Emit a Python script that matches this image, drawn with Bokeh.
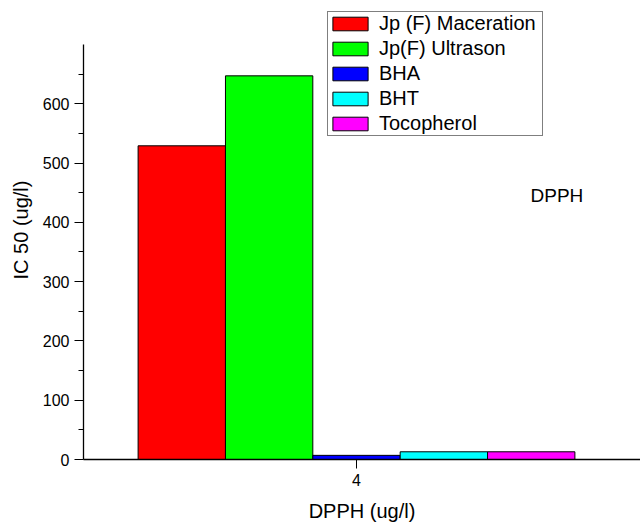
from bokeh.plotting import figure
from bokeh.models import Range1d, FixedTicker, Legend, LegendItem, Label, ColumnDataSource
from bokeh.embed import file_html
from bokeh.resources import INLINE

# Data
series = ["Jp (F) Maceration", "Jp(F) Ultrason", "BHA", "BHT", "Tocopherol"]
colors = ["#FF0000", "#00FF00", "#0000FF", "#00FFFF", "#FF00FF"]
x_value = 4
ic50 = [529, 647, 7, 13, 13]
y_ticks = [0, 100, 200, 300, 400, 500, 600]
y_minor = [50, 150, 250, 350, 450, 550, 650]
y_axis_max = 700

bar_w = 0.32
FONT = "Liberation Sans"

# frame: left 83 px, bottom at 460 px; y=700 at 44 px from top
frame_h = 460
px_per_unit = (460 - 44) / y_axis_max
p = figure(width=640, height=524, output_backend="svg", toolbar_location=None,
           x_range=Range1d(3.0, 3.0 + 557 / 273),
           y_range=Range1d(0, frame_h / px_per_unit),
           min_border_left=83, min_border_right=0, min_border_top=0, min_border_bottom=64)
p.outline_line_color = None
p.xgrid.visible = False
p.ygrid.visible = False
p.background_fill_color = "white"
p.border_fill_color = "white"

items = []
n = len(series)
for i, (name, c, v) in enumerate(zip(series, colors, ic50)):
    off = (i - (n - 1) / 2) * bar_w
    src = ColumnDataSource(dict(x=[x_value + off], top=[v]))
    r = p.vbar(x="x", top="top", bottom=0, width=bar_w, source=src,
               fill_color=c, line_color="black", line_width=1)
    items.append(LegendItem(label=name, renderers=[r]))

# axes
p.xaxis.ticker = FixedTicker(ticks=[x_value], minor_ticks=[])
p.yaxis.ticker = FixedTicker(ticks=y_ticks, minor_ticks=y_minor)
p.yaxis.bounds = (0, y_axis_max)
for ax in (p.xaxis[0], p.yaxis[0]):
    ax.axis_line_color = "black"
    ax.axis_line_width = 1.3
    ax.major_tick_line_color = "black"
    ax.minor_tick_line_color = "black"
    ax.major_tick_out = 9
    ax.major_tick_in = 0
    ax.minor_tick_out = 5
    ax.minor_tick_in = 0
    ax.major_label_text_font = FONT
    ax.major_label_text_font_size = "16px"
    ax.major_label_text_color = "black"
    ax.axis_label_text_font = FONT
    ax.axis_label_text_font_size = "20px"
    ax.axis_label_text_font_style = "normal"
    ax.axis_label_text_color = "black"
p.xaxis.axis_label = "DPPH (ug/l)"
p.yaxis.axis_label = "IC 50 (ug/l)"
p.xaxis.major_label_standoff = 5
p.yaxis.major_label_standoff = 5
p.xaxis.axis_label_standoff = 11
p.yaxis.axis_label_standoff = 8

legend = Legend(items=items, location=(244, 323), orientation="vertical",
                label_text_font=FONT, label_text_font_size="20px",
                label_text_color="black",
                glyph_width=44, glyph_height=17, label_height=18, label_width=163,
                spacing=2, padding=0, margin=0, label_standoff=7,
                border_line_color="black", border_line_width=1,
                background_fill_color="white", background_fill_alpha=1)
p.add_layout(legend, "center")

p.add_layout(Label(x=447, y=264, x_units="screen", y_units="screen",
                   text="DPPH", text_font=FONT, text_font_size="19px",
                   text_baseline="middle", text_color="black"))

html = file_html(p, INLINE)
open("out.html", "w").write(html)
